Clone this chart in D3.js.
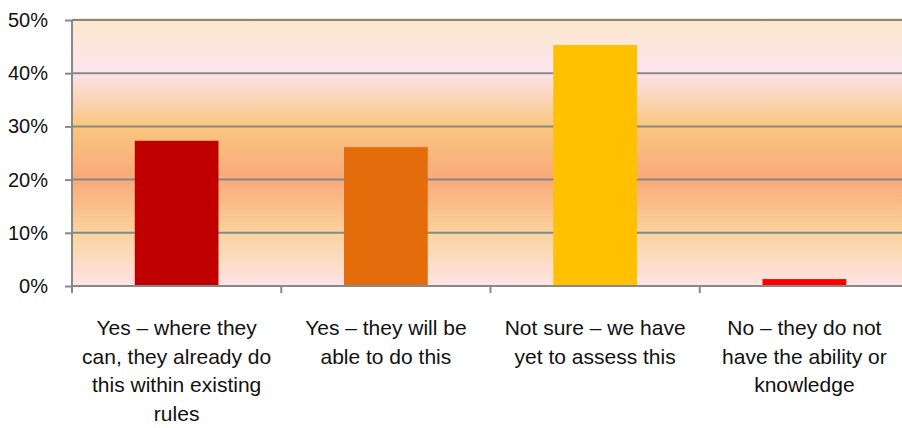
<!DOCTYPE html>
<html>
<head>
<meta charset="utf-8">
<script src="https://cdn.jsdelivr.net/npm/d3@7"></script>
<style>
  body { margin: 0; background: #fff; }
  svg { display: block; }
  text { font-family: "Liberation Sans", Arial, sans-serif; fill: #111; }
</style>
</head>
<body>
<div id="chart"></div>
<script>
// Categories (wrapped as in the original) and their shares
const categories = [
  ["Yes \u2013 where they", "can, they already do", "this within existing", "rules"],
  ["Yes \u2013 they will be", "able to do this"],
  ["Not sure \u2013 we have", "yet to assess this"],
  ["No \u2013 they do not", "have the ability or", "knowledge"]
];
const values = [27.3, 26.1, 45.3, 1.3];
const barColors = ["#C00000", "#E46C0A", "#FFC000", "#FF0000"];
const yTicks = [0, 10, 20, 30, 40, 50];

const width = 902, height = 428;
const margin = { top: 20, right: -7, bottom: 142, left: 72 };

const svg = d3.select("#chart").append("svg")
  .attr("width", width)
  .attr("height", height);

const x = d3.scaleBand()
  .domain(d3.range(categories.length))
  .range([margin.left, width - margin.right])
  .paddingInner(0.6)
  .paddingOuter(0.3);

const y = d3.scaleLinear()
  .domain([0, 50])
  .range([height - margin.bottom, margin.top]);

// Plot background gradient
const defs = svg.append("defs");
const grad = defs.append("linearGradient")
  .attr("id", "bg").attr("x1", 0).attr("y1", 0).attr("x2", 0).attr("y2", 1);
[
  [0, "#FBE9C9"], [0.2, "#FDE4EE"], [0.4, "#F9C77F"],
  [0.6, "#F9A97A"], [0.8, "#FAD39C"], [1, "#FDE4E6"]
].forEach(s => grad.append("stop").attr("offset", s[0]).attr("stop-color", s[1]));

svg.append("rect")
  .attr("x", margin.left)
  .attr("y", y(50) - 2)
  .attr("width", width - margin.right - margin.left)
  .attr("height", y(0) - y(50) + 2)
  .attr("fill", "url(#bg)");

// Gridlines
svg.append("g")
  .selectAll("line")
  .data(yTicks.filter(d => d > 0))
  .join("line")
  .attr("x1", margin.left)
  .attr("x2", width - margin.right)
  .attr("y1", d => y(d))
  .attr("y2", d => y(d))
  .attr("stroke", "#888")
  .attr("stroke-width", 2);

// Bars
svg.append("g")
  .selectAll("rect")
  .data(values)
  .join("rect")
  .attr("x", (d, i) => x(i))
  .attr("y", d => y(d))
  .attr("width", x.bandwidth())
  .attr("height", d => y(0) - y(d))
  .attr("fill", (d, i) => barColors[i]);

// Y axis
const yAxis = svg.append("g")
  .attr("transform", `translate(${margin.left},0)`)
  .call(d3.axisLeft(y).tickValues(yTicks).tickFormat(d => d + "%").tickSize(7).tickPadding(17));
yAxis.selectAll("line, path").attr("stroke", "#888").attr("stroke-width", 2);
yAxis.select(".domain").attr("d", `M0,${y(50)}V${y(0)}`);
yAxis.selectAll("text").attr("font-size", 20).attr("fill", "#111")
  .style("font-family", "'Liberation Sans', Arial, sans-serif");

// X axis with category boundary ticks
const xBase = svg.append("g");
xBase.append("line")
  .attr("x1", margin.left).attr("x2", width - margin.right)
  .attr("y1", y(0)).attr("y2", y(0))
  .attr("stroke", "#888").attr("stroke-width", 2);
xBase.selectAll("line.tick")
  .data(d3.range(categories.length + 1))
  .join("line")
  .attr("class", "tick")
  .attr("x1", i => margin.left + i * x.step())
  .attr("x2", i => margin.left + i * x.step())
  .attr("y1", y(0))
  .attr("y2", y(0) + 7)
  .attr("stroke", "#888")
  .attr("stroke-width", 2);

// Category labels
const labels = svg.append("g")
  .selectAll("text")
  .data(categories)
  .join("text")
  .attr("text-anchor", "middle")
  .attr("font-size", 21)
  .attr("x", (d, i) => x(i) + x.bandwidth() / 2)
  .attr("y", y(0) + 49);
labels.selectAll("tspan")
  .data(d => d)
  .join("tspan")
  .attr("x", function () { return this.parentNode.getAttribute("x"); })
  .attr("dy", (d, i) => i === 0 ? 0 : 28.7)
  .text(d => d);
</script>
</body>
</html>
